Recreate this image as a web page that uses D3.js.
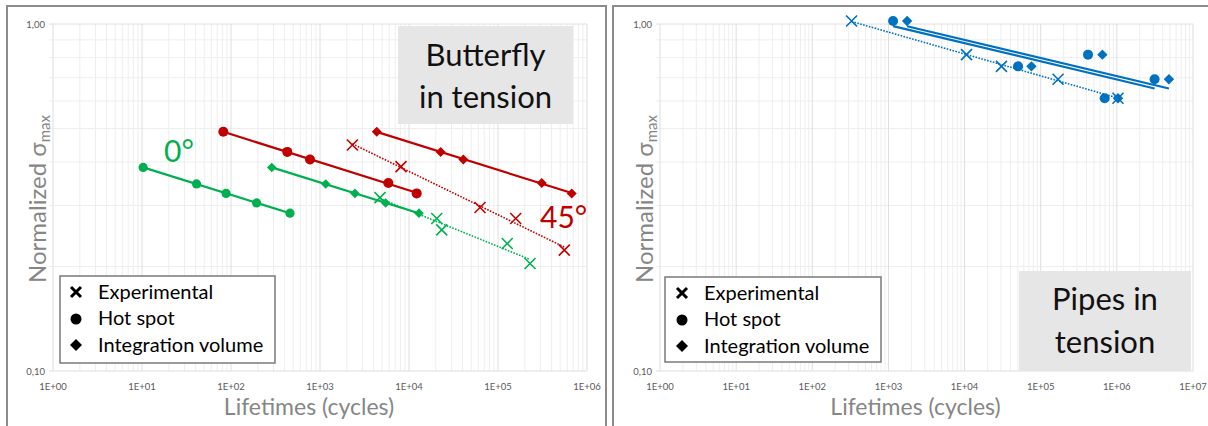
<!DOCTYPE html>
<html>
<head>
<meta charset="utf-8">
<script src="https://cdn.jsdelivr.net/npm/d3@7"></script>
<style>
  html, body { margin: 0; padding: 0; background: #fff; }
  svg { display: block; font-family: Lato, "Open Sans", sans-serif; }
</style>
</head>
<body>
<svg id="chart" width="1208" height="426"></svg>
<script>
// ---- Butterfly in tension, 0° (green) ----
const hotSpot0Stress = [0.386, 0.346, 0.325, 0.305, 0.285];
const hotSpot0Cycles = [10.3, 41, 88, 194, 460];
const intVol0Cycles  = [287, 1160, 2470, 5470, 12950];
const exp0Stress     = [0.316, 0.275, 0.255, 0.233, 0.204];
const exp0Cycles     = [4720, 20500, 23300, 127000, 229000];

// ---- Butterfly in tension, 45° (red) ----
const hotSpot45Stress = [0.489, 0.428, 0.407, 0.348, 0.325];
const hotSpot45Cycles = [82, 429, 772, 5860, 12200];
const intVol45Cycles  = [4340, 22700, 40800, 310000, 673000];
const exp45Stress     = [0.448, 0.388, 0.296, 0.275, 0.223];
const exp45Cycles     = [2310, 8130, 62800, 158000, 556000];

// ---- Pipes in tension (blue) ----
const pipesStress        = [1.02, 0.816, 0.755, 0.693, 0.611];
const pipesExpCycles     = [328, 10600, 30500, 169000, 1035000];
const pipesHotSpotCycles = [1150, 418000, 50400, 3130000, 692000];
const pipesIntVolCycles  = [1760, 645000, 75500, 4830000, 1035000];

// ---- Axis labels ----
const yTickLabels = ["0,10", "1,00"];
const legendLabels = ["Experimental", "Hot spot", "Integration volume"];
const xTitle = "Lifetimes (cycles)";

const GREEN = "#00b050", RED = "#c00000", BLUE = "#0070c0";

const svg = d3.select("#chart");

function pts(cycles, stress) {
  return cycles.map((n, i) => ({ n, s: stress[i] }));
}

// least-squares power-law trend (straight line in log-log)
function powerFit(data) {
  const lx = data.map(d => Math.log10(d.n)), ly = data.map(d => Math.log10(d.s));
  const mx = d3.mean(lx), my = d3.mean(ly);
  let sxy = 0, sxx = 0;
  lx.forEach((v, i) => { sxy += (v - mx) * (ly[i] - my); sxx += (v - mx) * (v - mx); });
  const b = sxy / sxx, a = my - b * mx;
  const [n0, n1] = d3.extent(data, d => d.n);
  return [n0, n1].map(n => ({ n, s: Math.pow(10, a + b * Math.log10(n)) }));
}

function sup(n) { return "1E+" + String(n).padStart(2, "0"); }

function drawPanel(opt) {
  const g = svg.append("g");
  const x = d3.scaleLog().domain([1, Math.pow(10, opt.decades)]).range([opt.x0, opt.x1]);
  const y = d3.scaleLog().domain([0.1, 1]).range([371, 24]);

  // frame
  g.append("rect").attr("x", opt.frameX).attr("y", 6).attr("width", opt.frameW).attr("height", 440)
    .attr("fill", "#fff").attr("stroke", "#8c8c8c").attr("stroke-width", 2);

  // grid
  const grid = g.append("g");
  for (let k = 0; k < opt.decades; k++) {
    for (let m = 2; m <= 9; m++) {
      const v = m * Math.pow(10, k);
      grid.append("line").attr("x1", x(v)).attr("x2", x(v)).attr("y1", 24).attr("y2", 371)
        .attr("stroke", "#eeeeee").attr("stroke-width", 1);
    }
  }
  for (let m = 2; m <= 9; m++) {
    const v = m / 10;
    grid.append("line").attr("x1", opt.x0 - 4).attr("x2", opt.x1).attr("y1", y(v)).attr("y2", y(v))
      .attr("stroke", "#eeeeee").attr("stroke-width", 1);
  }
  for (let k = 0; k <= opt.decades; k++) {
    const v = Math.pow(10, k);
    grid.append("line").attr("x1", x(v)).attr("x2", x(v)).attr("y1", 24).attr("y2", 371)
      .attr("stroke", "#dedede").attr("stroke-width", 1);
  }
  [0.1, 1].forEach(v => {
    grid.append("line").attr("x1", opt.x0 - 4).attr("x2", opt.x1).attr("y1", y(v)).attr("y2", y(v))
      .attr("stroke", "#dedede").attr("stroke-width", 1);
  });

  // tick labels
  const xt = d3.range(0, opt.decades + 1).map(k => Math.pow(10, k));
  g.selectAll(".xt").data(xt).join("text")
    .attr("x", d => x(d)).attr("y", 389.5).attr("text-anchor", "middle")
    .attr("font-size", 9.5).attr("fill", "#595959")
    .text(d => sup(Math.round(Math.log10(d))));
  g.selectAll(".yt").data([0.1, 1]).join("text")
    .attr("x", opt.x0 - 8).attr("y", d => y(d) + 3.5).attr("text-anchor", "end")
    .attr("font-size", 9.5).attr("fill", "#595959")
    .text((d, i) => yTickLabels[i]);

  // axis titles
  g.append("text").attr("x", (opt.x0 + opt.x1) / 2 - 11).attr("y", 415).attr("text-anchor", "middle")
    .attr("font-size", 23).attr("fill", "#868686").text(xTitle);
  const yt = g.append("text").attr("transform", `translate(${opt.x0 - 7},199) rotate(-90)`)
    .attr("text-anchor", "middle").attr("font-size", 24).attr("fill", "#868686");
  yt.append("tspan").text("Normalized σ");
  yt.append("tspan").attr("font-size", 15).attr("dy", 4).text("max");

  const line = d3.line().x(d => x(d.n)).y(d => y(d.s));
  return { g, x, y, line };
}

function trend(p, data, color, dotted) {
  p.g.append("path").datum(powerFit(data)).attr("d", p.line).attr("fill", "none")
    .attr("stroke", color).attr("stroke-width", dotted ? 1.6 : 2.2)
    .attr("stroke-dasharray", dotted ? "1.6,1.4" : null);
}

function circles(p, data, color, r) {
  p.g.append("g").selectAll("circle").data(data).join("circle")
    .attr("cx", d => p.x(d.n)).attr("cy", d => p.y(d.s)).attr("r", r).attr("fill", color);
}
function diamonds(p, data, color, r) {
  p.g.append("g").selectAll("path").data(data).join("path")
    .attr("transform", d => `translate(${p.x(d.n)},${p.y(d.s)})`)
    .attr("d", `M0,${-r}L${r},0L0,${r}L${-r},0Z`).attr("fill", color);
}
function crosses(p, data, color, r) {
  p.g.append("g").selectAll("path").data(data).join("path")
    .attr("transform", d => `translate(${p.x(d.n)},${p.y(d.s)})`)
    .attr("d", `M${-r},${-r}L${r},${r}M${-r},${r}L${r},${-r}`)
    .attr("fill", "none").attr("stroke", color).attr("stroke-width", 1.6);
}

function legend(g, lx, ly, w, h, sx, tx) {
  g.append("rect").attr("x", lx).attr("y", ly).attr("width", w).attr("height", h)
    .attr("fill", "#fff").attr("stroke", "#7a7a7a").attr("stroke-width", 1.5);
  const rows = [ly + 16, ly + 42, ly + 69];
  g.append("path").attr("d", `M${sx - 5},${rows[0] - 5}L${sx + 5},${rows[0] + 5}M${sx - 5},${rows[0] + 5}L${sx + 5},${rows[0] - 5}`)
    .attr("stroke", "#000").attr("stroke-width", 3);
  g.append("circle").attr("cx", sx).attr("cy", rows[1] + 1).attr("r", 5.5).attr("fill", "#000");
  g.append("path").attr("d", `M${sx},${rows[2] - 6}L${sx + 6},${rows[2]}L${sx},${rows[2] + 6}L${sx - 6},${rows[2]}Z`).attr("fill", "#000");
  legendLabels.forEach((t, i) => {
    g.append("text").attr("x", tx).attr("y", rows[i] + 7).attr("font-size", 20).attr("fill", "#000").text(t);
  });
}

function titleBox(g, bx, by, w, h, lines, baselines) {
  g.append("rect").attr("x", bx).attr("y", by).attr("width", w).attr("height", h).attr("fill", "#e7e6e6");
  lines.forEach((t, i) => {
    g.append("text").attr("x", bx + w / 2).attr("y", baselines[i]).attr("text-anchor", "middle")
      .attr("font-size", 31).attr("fill", "#111").text(t);
  });
}

// ---------- Left panel: butterfly ----------
const L = drawPanel({ frameX: 7, frameW: 599, x0: 53, x1: 587, decades: 6 });
titleBox(L.g, 398, 26, 175, 98, ["Butterfly", "in tension"], [66, 108]);

const g0hs = pts(hotSpot0Cycles, hotSpot0Stress);
const g0iv = pts(intVol0Cycles, hotSpot0Stress);
const g0ex = pts(exp0Cycles, exp0Stress);
const r45hs = pts(hotSpot45Cycles, hotSpot45Stress);
const r45iv = pts(intVol45Cycles, hotSpot45Stress);
const r45ex = pts(exp45Cycles, exp45Stress);

trend(L, g0ex, GREEN, true);
trend(L, r45ex, RED, true);
trend(L, g0hs, GREEN, false);
trend(L, g0iv, GREEN, false);
trend(L, r45hs, RED, false);
trend(L, r45iv, RED, false);
circles(L, g0hs, GREEN, 4.6);
diamonds(L, g0iv, GREEN, 4.8);
crosses(L, g0ex, GREEN, 5.5);
circles(L, r45hs, RED, 5);
diamonds(L, r45iv, RED, 5);
crosses(L, r45ex, RED, 5.5);

L.g.append("text").attr("x", 164).attr("y", 162).attr("font-size", 30).attr("fill", GREEN).text("0°");
L.g.append("text").attr("x", 540).attr("y", 228).attr("font-size", 30).attr("fill", RED).text("45°");

legend(L.g, 60, 276, 215, 87, 76, 98);

// ---------- Right panel: pipes ----------
const R = drawPanel({ frameX: 613, frameW: 600, x0: 660, x1: 1193, decades: 7 });
titleBox(R.g, 1019, 271, 172, 100, ["Pipes in", "tension"], [310, 353]);

const pex = pts(pipesExpCycles, pipesStress);
const phs = pts(pipesHotSpotCycles, pipesStress);
const piv = pts(pipesIntVolCycles, pipesStress);

trend(R, pex, BLUE, true);
trend(R, phs, BLUE, false);
trend(R, piv, BLUE, false);
circles(R, phs, BLUE, 5);
diamonds(R, piv, BLUE, 5.2);
crosses(R, pex, BLUE, 5.5);

legend(R.g, 665, 277, 216, 85, 682, 704);
</script>
</body>
</html>
